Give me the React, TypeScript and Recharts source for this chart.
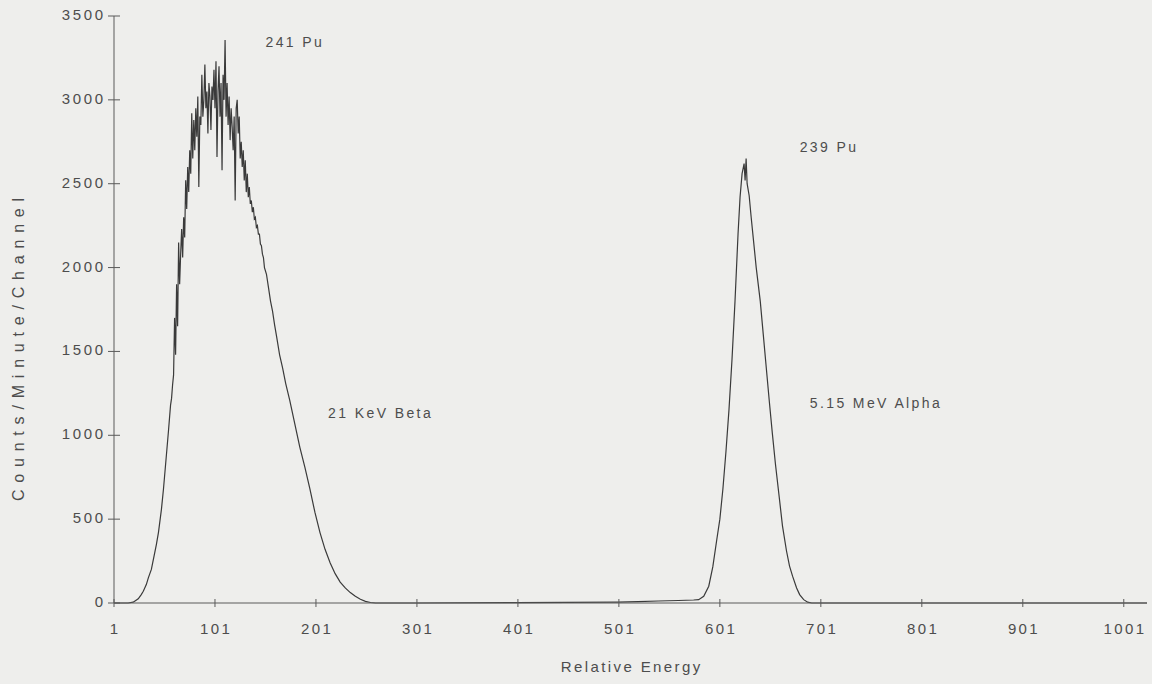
import React from 'react';
import { LineChart, Line, XAxis, YAxis, ReferenceDot } from 'recharts';

// channel numbers (relative energy) and counts
const channels = [
  1, 15, 20, 25, 28, 30, 33, 35, 38, 40, 43, 45, 48, 50, 52, 55, 57, 58, 59,
  60, 61, 62, 63, 64, 65, 66, 67, 68, 69, 70, 71, 72, 73, 74, 75, 76, 77, 78, 79,
  80, 81, 82, 83, 84, 85, 86, 87, 88, 89, 90, 91, 92, 93, 94, 95, 96, 97, 98, 99,
  100, 101, 102, 103, 104, 105, 106, 107, 108, 109, 110, 111, 112, 113, 114, 115, 116, 117, 118, 119,
  120, 121, 122, 123, 124, 125, 126, 127, 128, 129, 130, 131, 132, 133, 134, 135, 136, 137, 138, 139,
  140, 141, 142, 143, 144, 145, 146, 147, 148, 149, 150,
  152, 154, 156, 158, 160, 162, 165, 168, 171, 175, 180, 185, 190, 195, 200,
  205, 210, 215, 220, 225, 230, 235, 240, 245, 250, 255, 260,
  300, 400, 500, 520, 540, 560, 575, 580, 585, 590, 594, 598, 601, 604, 607, 610,
  613, 616, 619, 621, 623, 625, 626, 627, 628, 630, 632, 634, 637, 641, 644, 647,
  650, 653, 656, 660, 663, 667, 670, 673, 677, 680, 684, 688, 692, 800, 1024,
];

const counts = [
  0, 0, 5, 25, 50, 70, 110, 150, 200, 260, 350, 420, 560, 680, 820, 1030, 1180, 1220, 1300,
  1360, 1700, 1480, 1900, 1650, 2150, 1900, 2080, 2230, 2060, 2300, 2180, 2520, 2350, 2600, 2450, 2700, 2560, 2920, 2650,
  2880, 2700, 2950, 2780, 3020, 2480, 2900, 2850, 3150, 2900, 3000, 3210, 2950, 3050, 2800, 3100, 3020, 2820, 3080, 3000,
  3180, 2950, 3230, 2660, 3050, 3200, 2900, 3100, 2580, 3150, 3000, 3357, 2900, 3100, 2850, 3020, 2760, 2950, 2840, 2700,
  2900, 2400, 2950, 3000, 2800, 2900, 2650, 2750, 2600, 2700, 2520, 2640, 2450, 2560, 2420, 2480, 2380, 2400, 2330, 2360,
  2290, 2300, 2240, 2250, 2200, 2200, 2140, 2130, 2080, 2060, 2000,
  1960, 1880, 1800, 1740, 1660, 1590, 1480, 1400, 1310, 1210, 1070, 930, 810, 680, 540,
  420, 320, 240, 175, 125, 90, 62, 40, 22, 10, 3, 0,
  0, 2, 5, 8, 12, 15, 18, 20, 40, 100, 215, 380, 500, 680, 900, 1150,
  1450, 1800, 2200, 2420, 2560, 2620, 2520, 2650, 2500, 2430, 2300, 2180, 2000, 1800, 1600, 1400,
  1200, 1010, 830, 620, 460, 310, 220, 160, 90, 50, 20, 5, 0, 0, 0,
];

const xTicks = [1, 101, 201, 301, 401, 501, 601, 701, 801, 901, 1001];
const yTicks = [0, 500, 1000, 1500, 2000, 2500, 3000, 3500];

const notes = [
  { text: '241 Pu', channel: 151, value: 3315 },
  { text: '239 Pu', channel: 680, value: 2689 },
  { text: '21 KeV Beta', channel: 213, value: 1103 },
  { text: '5.15 MeV Alpha', channel: 690, value: 1163 },
];

const data = channels.map((c, i) => ({ channel: c, counts: counts[i] }));

const ink = '#4d4d4d';
const axisInk = '#5a5a5a';
const font = '"Liberation Sans", Arial, sans-serif';

// ticks in the scan cross the axis line
const XTick = (props: any) => {
  const { x, y, payload } = props;
  return (
    <g>
      <line x1={x} y1={y - 4} x2={x} y2={y + 4} stroke={axisInk} />
      <text x={x} y={y + 31} dx={1.2} textAnchor="middle" fill={ink} fontSize={15} letterSpacing={2.4} fontFamily={font}>
        {payload.value}
      </text>
    </g>
  );
};

const YTick = (props: any) => {
  const { x, y, payload } = props;
  return (
    <g>
      <line x1={x - 6} y1={y} x2={x + 6} y2={y} stroke={axisInk} />
      <text x={x - 11} y={y + 4} dx={2.6} textAnchor="end" fill={ink} fontSize={15} letterSpacing={2.6} fontFamily={font}>
        {payload.value}
      </text>
    </g>
  );
};

const App = () => {
  return (
    <div style={{ position: 'absolute', left: 0, top: 0, width: 1152, height: 684, background: '#eeeeec', fontFamily: font }}>
      <LineChart width={1152} height={684} data={data} margin={{ top: 16, right: 5, bottom: 0, left: 0 }}>
        <XAxis
          dataKey="channel"
          type="number"
          domain={[1, 1024]}
          ticks={xTicks}
          height={81}
          tickSize={0}
          tickMargin={0}
          tickLine={false}
          stroke={axisInk}
          tick={<XTick />}
          label={({ viewBox }: any) => (
            <text x={viewBox.x + viewBox.width / 2} y={672} dx={1.2} textAnchor="middle" fill={ink} fontSize={15} letterSpacing={2.4} fontFamily={font}>
              Relative Energy
            </text>
          )}
        />
        <YAxis
          type="number"
          domain={[0, 3500]}
          ticks={yTicks}
          width={114}
          tickSize={0}
          tickMargin={0}
          tickLine={false}
          stroke={axisInk}
          tick={<YTick />}
          label={({ viewBox }: any) => {
            const cy = viewBox.y + viewBox.height / 2 + 40;
            return (
              <text x={24} y={cy} dx={3.4} transform={`rotate(-90, 24, ${cy})`} textAnchor="middle" fill={ink} fontSize={16} letterSpacing={6.8} fontFamily={font}>
                Counts/Minute/Channel
              </text>
            );
          }}
        />
        {notes.map((n) => (
          <ReferenceDot
            key={n.text}
            x={n.channel}
            y={n.value}
            r={0}
            ifOverflow="visible"
            shape={(p: any) => (
              <text x={p.cx} y={p.cy} fill={ink} fontSize={14} letterSpacing={2.4} fontFamily={font}>
                {n.text}
              </text>
            )}
          />
        ))}
        <Line
          type="linear"
          dataKey="counts"
          stroke="#3a3a3a"
          strokeWidth={1.2}
          dot={false}
          isAnimationActive={false}
        />
      </LineChart>
    </div>
  );
};

export default App;
